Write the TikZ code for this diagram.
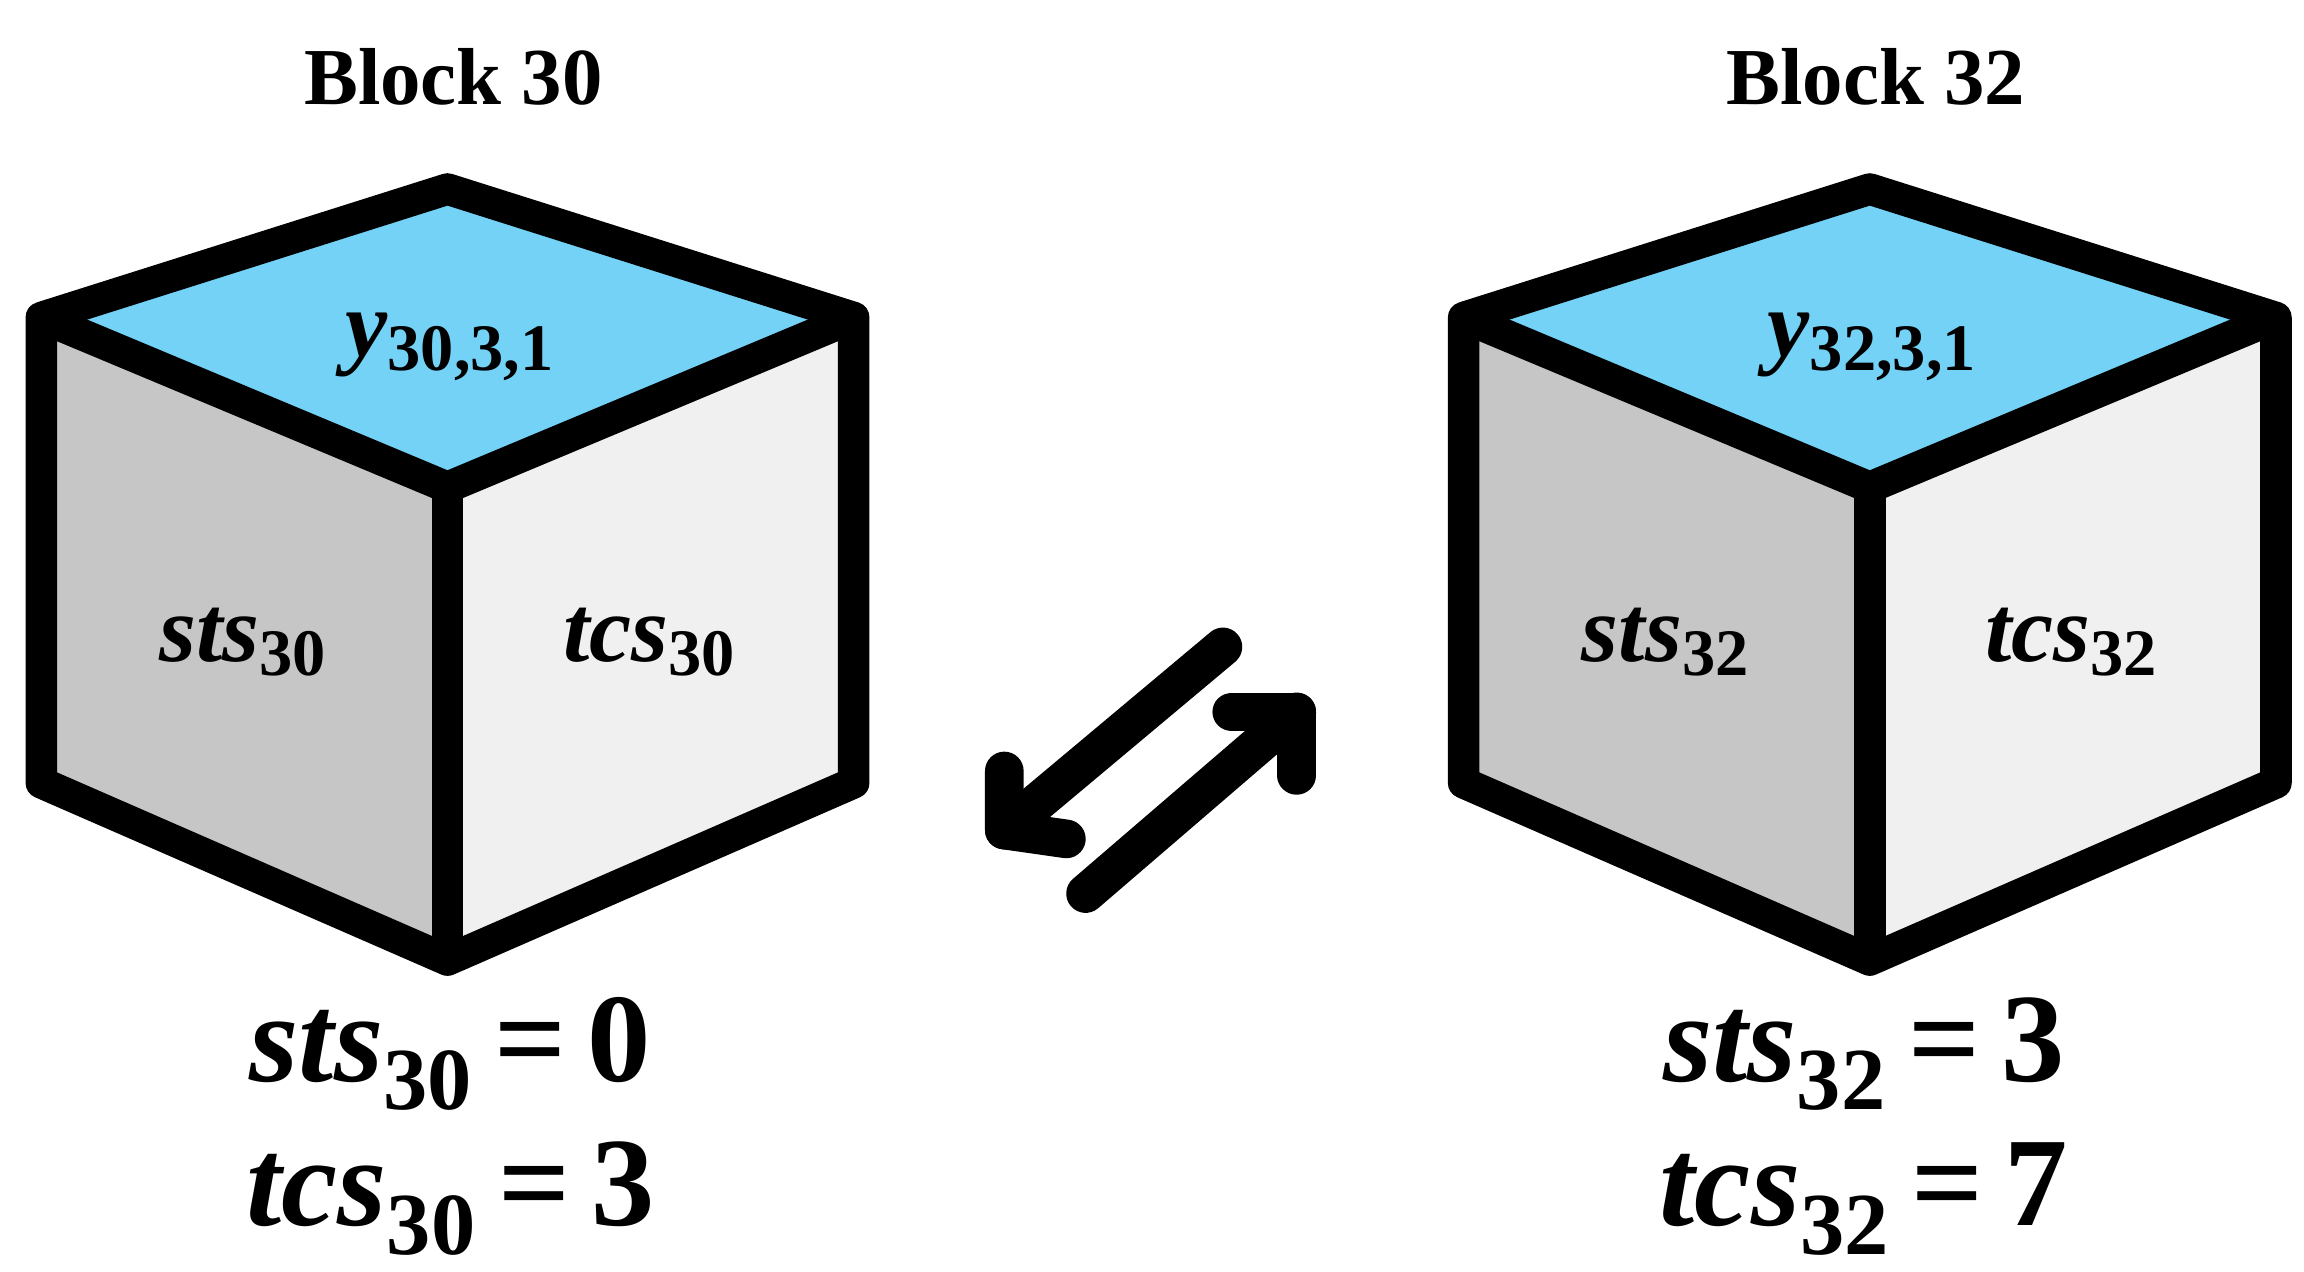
\documentclass[tikz,border=0pt]{standalone}
\usepackage{fontspec}
\setmainfont{Liberation Serif}
\usetikzlibrary{arrows.meta}
\begin{document}
\begin{tikzpicture}[x=0.01477cm,y=-0.01477cm,
  edge/.style={line width=9pt,line join=round,black},
  arr/.style={line width=11pt,line cap=round,-{Triangle Cap[width=0pt]}},
  lbl/.style={font=\bfseries\itshape\fontsize{27}{30}\selectfont},
  ttl/.style={font=\bfseries\fontsize{23}{26}\selectfont},
  eq/.style={font=\bfseries\fontsize{36}{40}\selectfont,anchor=base}]
\useasboundingbox (0,0) rectangle (1560,861);
\foreach \dx/\n in {0/30,963/32}{
\begin{scope}[xshift=\dx*0.01477cm]
  \fill[cyan!55!white] (303,128) -- (28,215) -- (303,330) -- (578,215) -- cycle;
  \fill[gray!45] (28,215) -- (303,330) -- (303,650) -- (28,530) -- cycle;
  \fill[gray!12] (578,215) -- (303,330) -- (303,650) -- (578,530) -- cycle;
  \draw[edge] (303,128) -- (28,215) -- (28,530) -- (303,650) -- (578,530) -- (578,215) -- cycle;
  \draw[edge] (28,215) -- (303,330) -- (578,215);
  \draw[edge] (303,330) -- (303,650);
  \node[ttl] (t\n) at (307,52) {Block \n};
  \node[lbl] (y\n) at (305,235) {y\textsubscript{\upshape\n,3,1}};
  \node[lbl] (s\n) at (165,435) {sts\textsubscript{\upshape\n}};
  \node[lbl] (c\n) at (440,435) {tcs\textsubscript{\upshape\n}};
\end{scope}}
\node[eq] (e1) at (305,732) {\itshape sts\textsubscript{\upshape30}\upshape\,=\,0};
\node[eq] (e2) at (305,830) {\itshape tcs\textsubscript{\upshape30}\upshape\,=\,3};
\node[eq] (e3) at (1262,732) {\itshape sts\textsubscript{\upshape32}\upshape\,=\,3};
\node[eq] (e4) at (1262,830) {\itshape tcs\textsubscript{\upshape32}\upshape\,=\,7};
\coordinate (a1) at (828,438); \coordinate (b1) at (680,562);
\coordinate (a2) at (735,605); \coordinate (b2) at (878,482);
\draw[line width=11pt,line cap=round] (a1) -- (b1);
\draw[line width=11pt,line cap=round,line join=round] (680,522) -- (b1) -- (722,568);
\draw[line width=11pt,line cap=round] (a2) -- (b2);
\draw[line width=11pt,line cap=round,line join=round] (834,482) -- (b2) -- (878,525);
\end{tikzpicture}
\end{document}
